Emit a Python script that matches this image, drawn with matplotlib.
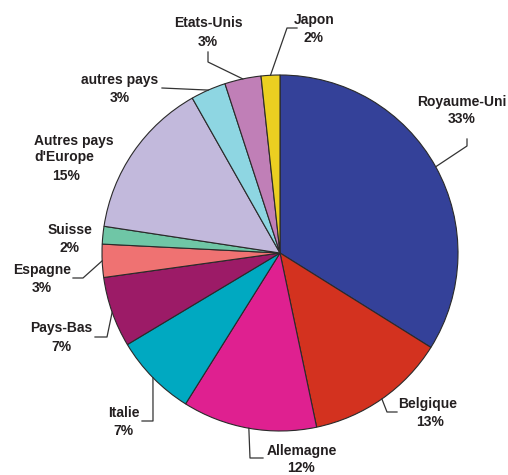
import numpy as np
import matplotlib.pyplot as plt

W, H = 508, 475

# data (clockwise from 12 o'clock)
pays = ['Royaume-Uni', 'Belgique', 'Allemagne', 'Italie', 'Pays-Bas', 'Espagne',
        'Suisse', "Autres pays\nd'Europe", 'autres pays', 'Etats-Unis', 'Japon']
parts = [33.9, 12.8, 12.2, 7.5, 6.4, 3.0, 1.6, 14.4, 3.2, 3.3, 1.7]
pct_txt = ['33%', '13%', '12%', '7%', '7%', '3%', '2%', '15%', '3%', '3%', '2%']
couleurs = ['#344199', '#d3321f', '#df2090', '#00a9c1', '#9c1b67', '#ef7272',
            '#6fc6a6', '#c2b9dc', '#8ed6e2', '#c07fb7', '#ebcf21']

# label layout in pixel coords: name pos, pct pos, name ha, leader points
layout = [
    ((462, 102), (462, 119), 'center', [(467, 146), (467, 139)]),
    ((428, 404), (430, 422), 'center', [(387, 412), (397, 412)]),
    ((302, 451), (301, 468), 'center', [(250, 458), (263, 458)]),
    ((124, 413), (123, 431), 'center', [(153, 421), (142, 421)]),
    ((61, 328), (61, 347), 'center', [(107, 337), (95, 337)]),
    ((42, 270), (42, 288), 'center', [(83, 278), (73, 278)]),
    ((70, 230), (70, 248), 'center', []),
    ((34, 149), (66, 176), 'left', []),
    ((120, 80), (120, 98), 'center', [(162, 88)]),
    ((208, 23), (208, 42), 'center', [(208, 62), (208, 52)]),
    ((314, 20), (314, 38), 'center', [(287, 28), (297, 28)]),
]

cx, cy, r = 280, 253, 178
txt_col = '#231f20'
font = dict(family='Liberation Sans', weight='bold', size=10, color=txt_col)

fig = plt.figure(figsize=(W / 100, H / 100), dpi=100)
ax = fig.add_axes([0, 0, 1, 1])
wedges, _ = ax.pie(parts, colors=couleurs, startangle=-90, counterclock=True,
                   center=(cx, cy), radius=r, frame=True,
                   wedgeprops=dict(linewidth=0.8, edgecolor='#2a2a2a'))
ax.set_xlim(0, W)
ax.set_ylim(H, 0)
ax.set_aspect('equal')
ax.axis('off')

for w, name, pct, lay in zip(wedges, pays, pct_txt, layout):
    npos, ppos, ha, pts = lay
    ax.text(npos[0], npos[1], name, ha=ha, va='center', linespacing=1.15, **font)
    ax.text(ppos[0], ppos[1], pct, ha='center', va='center', **font)
    if pts:
        mid = np.deg2rad((w.theta1 + w.theta2) / 2)
        x0 = cx + r * np.cos(mid)
        y0 = cy + r * np.sin(mid)
        xs = [x0] + [p[0] for p in pts]
        ys = [y0] + [p[1] for p in pts]
        ax.plot(xs, ys, color='#333333', lw=0.9)

fig.savefig('out.png', dpi=100)
